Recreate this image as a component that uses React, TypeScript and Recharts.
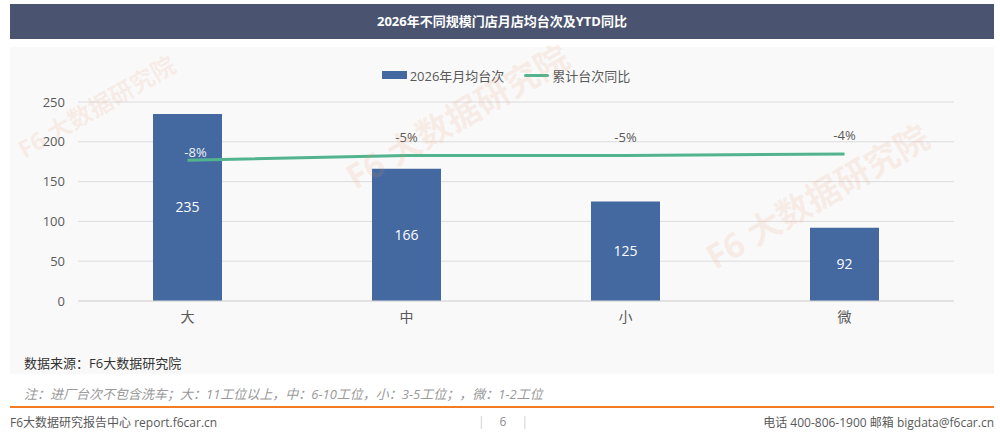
import {
  ComposedChart,
  Bar,
  Line,
  XAxis,
  YAxis,
  CartesianGrid,
  Legend,
  LabelList,
} from 'recharts';

const categories = ['大', '中', '小', '微'];
const monthlyAvg = [235, 166, 125, 92];
const ytdChange = [-8, -5, -5, -4];
const leftTicks = [0, 50, 100, 150, 200, 250];

const data = categories.map((name, i) => ({
  name,
  monthlyAvg: monthlyAvg[i],
  ytdChange: ytdChange[i],
}));

const FONT = '"Open Sans", "Noto Sans CJK SC", sans-serif';
const BAR_COLOR = '#4469a0';
const LINE_COLOR = '#52b38f';

function ChangeLabel(props: any) {
  const { x, y, value, index } = props;
  // first label sits inside the bar, like the source
  const first = index === 0;
  return (
    <text
      x={x + (first ? 8 : 0)}
      y={y - (first ? 3 : 14)}
      textAnchor="middle"
      fill={first ? '#eef1f6' : '#595959'}
      fontSize={13}
    >
      {value}%
    </text>
  );
}

function renderLegend() {
  return (
    <div
      style={{
        display: 'flex',
        justifyContent: 'center',
        alignItems: 'center',
        height: 16,
        paddingLeft: 12,
        fontSize: 13,
        color: '#595959',
      }}
    >
      <span style={{ width: 25, height: 8, background: BAR_COLOR, marginRight: 3 }} />
      <span style={{ marginRight: 20 }}>2026年月均台次</span>
      <span
        style={{ width: 25, height: 3, background: LINE_COLOR, borderRadius: 2, marginRight: 3 }}
      />
      <span>累计台次同比</span>
    </div>
  );
}

const watermarks = [
  { left: 28, top: 130, size: 24 },
  { left: 360, top: 150, size: 34 },
  { left: 720, top: 230, size: 34 },
];

export default function App() {
  return (
    <div
      style={{
        position: 'absolute',
        left: 0,
        top: 0,
        width: 1000,
        height: 439,
        background: '#fff',
        overflow: 'hidden',
        fontFamily: FONT,
      }}
    >
      {/* header */}
      <div
        style={{
          position: 'absolute',
          left: 10,
          top: 4,
          width: 984,
          height: 35,
          background: '#4a5470',
          color: '#fff',
          fontWeight: 700,
          fontSize: 13,
          lineHeight: '35px',
          textAlign: 'center',
        }}
      >
        2026年不同规模门店月店均台次及YTD同比
      </div>

      {/* chart panel */}
      <div
        style={{
          position: 'absolute',
          left: 10,
          top: 47,
          width: 984,
          height: 327,
          background: '#f9f9f9',
        }}
      />

      <div style={{ position: 'absolute', left: 0, top: 47 }}>
        <ComposedChart
          width={1000}
          height={289}
          data={data}
          margin={{ top: 20, right: 46, left: 18, bottom: 5 }}
        >
          <Legend
            verticalAlign="top"
            height={35}
            content={renderLegend}
            wrapperStyle={{ left: 0, width: 1000 }}
          />
          <CartesianGrid yAxisId="left" vertical={false} stroke="#dcdcdc" />
          <XAxis
            dataKey="name"
            tickLine={false}
            axisLine={{ stroke: '#d9d9d9' }}
            tick={{ fill: '#595959', fontSize: 14 }}
            tickMargin={5}
          />
          <YAxis
            yAxisId="left"
            domain={[0, 250]}
            ticks={leftTicks}
            axisLine={false}
            tickLine={false}
            width={60}
            tickMargin={7}
            tick={{ fill: '#595959', fontSize: 13 }}
          />
          <YAxis yAxisId="right" orientation="right" hide domain={[-100, 30]} />
          <Bar
            yAxisId="left"
            dataKey="monthlyAvg"
            fill={BAR_COLOR}
            barSize={69}
            isAnimationActive={false}
          >
            <LabelList dataKey="monthlyAvg" position="center" fill="#fff" fontSize={14} />
          </Bar>
          <Line
            yAxisId="right"
            dataKey="ytdChange"
            stroke={LINE_COLOR}
            strokeWidth={3}
            dot={false}
            isAnimationActive={false}
          >
            <LabelList dataKey="ytdChange" content={ChangeLabel} />
          </Line>
        </ComposedChart>
      </div>

      {/* faint watermarks */}
      {watermarks.map((w, i) => (
        <div
          key={i}
          style={{
            position: 'absolute',
            left: w.left,
            top: w.top,
            fontSize: w.size,
            fontWeight: 700,
            color: 'rgba(240, 140, 90, 0.13)',
            transform: 'rotate(-30deg)',
            transformOrigin: 'left bottom',
            whiteSpace: 'nowrap',
            pointerEvents: 'none',
          }}
        >
          F6 大数据研究院
        </div>
      ))}

      <div style={{ position: 'absolute', left: 24, top: 353, fontSize: 13, color: '#333' }}>
        数据来源：F6大数据研究院
      </div>
      <div
        style={{
          position: 'absolute',
          left: 24,
          top: 384,
          fontSize: 13,
          fontStyle: 'italic',
          color: '#999',
        }}
      >
        注：进厂台次不包含洗车；大：11工位以上，中：6-10工位，小：3-5工位；，微：1-2工位
      </div>

      <div
        style={{
          position: 'absolute',
          left: 10,
          top: 406,
          width: 984,
          height: 2,
          background: '#f47b20',
        }}
      />

      <div style={{ position: 'absolute', left: 10, top: 413, fontSize: 12, color: '#595959' }}>
        F6大数据研究报告中心 report.f6car.cn
      </div>
      <div
        style={{
          position: 'absolute',
          left: 478,
          top: 413,
          width: 50,
          fontSize: 12,
          color: '#8c8c8c',
          display: 'flex',
          justifyContent: 'space-between',
        }}
      >
        <span style={{ color: '#d0d0d0' }}>|</span>
        <span>6</span>
        <span style={{ color: '#d0d0d0' }}>|</span>
      </div>
      <div
        style={{
          position: 'absolute',
          right: 6,
          top: 413,
          fontSize: 12,
          color: '#595959',
        }}
      >
        电话 400-806-1900 邮箱 bigdata@f6car.cn
      </div>
    </div>
  );
}
